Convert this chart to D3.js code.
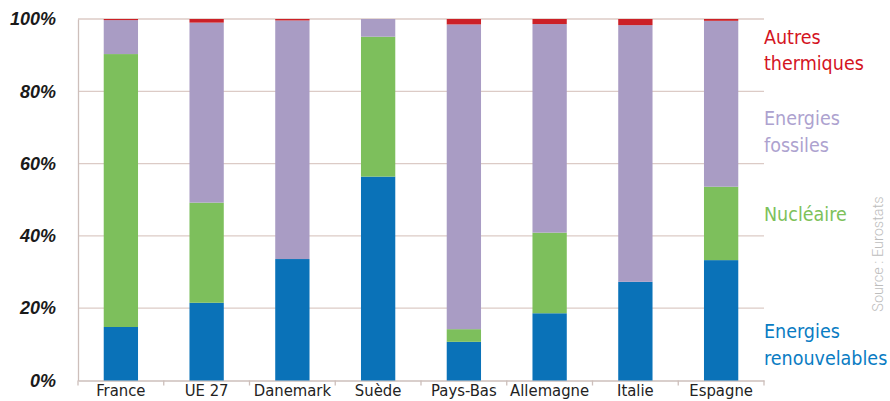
<!DOCTYPE html>
<html><head><meta charset="utf-8">
<script src="https://cdn.jsdelivr.net/npm/d3@7/dist/d3.min.js"></script>
<style>body{margin:0;background:#fff}svg{display:block}</style>
</head><body>
<svg id="c" width="890" height="401"></svg>
<script>
const categories = ["France","UE 27","Danemark","Suède","Pays-Bas","Allemagne","Italie","Espagne"];
const renouvelables = [14.8, 21.5, 33.6, 56.4, 10.7, 18.6, 27.3, 33.3];
const nucleaire     = [75.5, 27.7, 0.0, 38.7, 3.5, 22.3, 0.0, 20.3];
const fossiles      = [9.4, 49.8, 66.0, 4.9, 84.3, 57.7, 71.0, 45.9];
const autres        = [0.3, 1.0, 0.4, 0.0, 1.5, 1.4, 1.7, 0.5];
const yTicks = [0, 20, 40, 60, 80, 100];
const seriesKeys = ["renouvelables","nucleaire","fossiles","autres"];
const seriesLabels = [["Energies","renouvelables"],["Nucléaire"],["Energies","fossiles"],["Autres","thermiques"]];
const source = "Source : Eurostats";

const barColors = {renouvelables:"#0a72b8", nucleaire:"#7dbf5c", fossiles:"#a99cc4", autres:"#cc2027"};
const textColors = {renouvelables:"#0a7cc3", nucleaire:"#7dc15a", fossiles:"#ada2cf", autres:"#d4141f"};

const rows = categories.map((c,i)=>({cat:c, renouvelables:renouvelables[i], nucleaire:nucleaire[i], fossiles:fossiles[i], autres:autres[i]}));
const stack = d3.stack().keys(seriesKeys)(rows);

const svg = d3.select("#c");
const x = d3.scaleBand().domain(categories).range([78,764]).paddingInner(0.6).paddingOuter(0.3);
const y = d3.scaleLinear().domain([0,100]).range([380.5,19]);

// gridlines
svg.append("g").selectAll("line").data(yTicks.filter(t=>t>0)).join("line")
  .attr("x1",78).attr("x2",764).attr("y1",d=>y(d)).attr("y2",d=>y(d))
  .attr("stroke","#dccbc6").attr("stroke-width",1.3);

// axes
const xAxis = svg.append("g").attr("transform",`translate(0,${y(0)})`)
  .call(d3.axisBottom(x).tickSize(0).tickPadding(6));
xAxis.select(".domain").attr("stroke","#cdbfbb").attr("stroke-width",1.3);
xAxis.selectAll("text").attr("font-family","'DejaVu Sans Condensed','Roboto Condensed','Liberation Sans Narrow',Roboto,sans-serif")
  .attr("font-size",16.5).attr("fill","#222").attr("dy","0.78em").attr("y",3);
// boundary ticks
const bounds = d3.range(categories.length+1).map(i=>x.range()[0]+i*x.step());
svg.append("g").selectAll("line").data(bounds).join("line")
  .attr("x1",d=>d).attr("x2",d=>d).attr("y1",y(0)).attr("y2",y(0)+5)
  .attr("stroke","#cdbfbb").attr("stroke-width",1.3);

const yAxis = svg.append("g").attr("transform","translate(78,0)")
  .call(d3.axisLeft(y).tickValues(yTicks).tickSize(0).tickPadding(22).tickFormat(d=>d+"%"));
yAxis.select(".domain").attr("stroke","#cdbfbb").attr("stroke-width",1.3);
yAxis.selectAll("text").attr("font-family","'Liberation Sans',Arial,sans-serif")
  .attr("font-size",18).attr("font-weight","bold").attr("font-style","italic").attr("fill","#1a1a1a");

// bars
svg.append("g").selectAll("g").data(stack).join("g").attr("fill",d=>barColors[d.key])
  .selectAll("rect").data(d=>d).join("rect")
  .attr("x",d=>x(d.data.cat)).attr("width",x.bandwidth())
  .attr("y",d=>y(d[1])).attr("height",d=>Math.max(0,y(d[0])-y(d[1])));

// legend
const legendY = {autres:[37,63], fossiles:[118,145], nucleaire:[214], renouvelables:[331,358]};
seriesKeys.forEach((k,i)=>{
  const t = svg.append("text").attr("x",764).attr("fill",textColors[k])
    .attr("font-family","'DejaVu Sans Condensed','Roboto Condensed',Roboto,sans-serif")
    .attr("font-size",19.5);
  seriesLabels[i].forEach((line,j)=>{
    t.append("tspan").attr("x",764).attr("y",legendY[k][j]).attr("dy","0.35em").text(line);
  });
});

svg.append("text").attr("transform","translate(878,254) rotate(-90)")
  .attr("text-anchor","middle").attr("dy","0.35em")
  .attr("font-family","Roboto,sans-serif").attr("font-weight",300).attr("font-size",14.5).attr("fill","#bdbdbd")
  .text(source);
</script>
</body></html>
